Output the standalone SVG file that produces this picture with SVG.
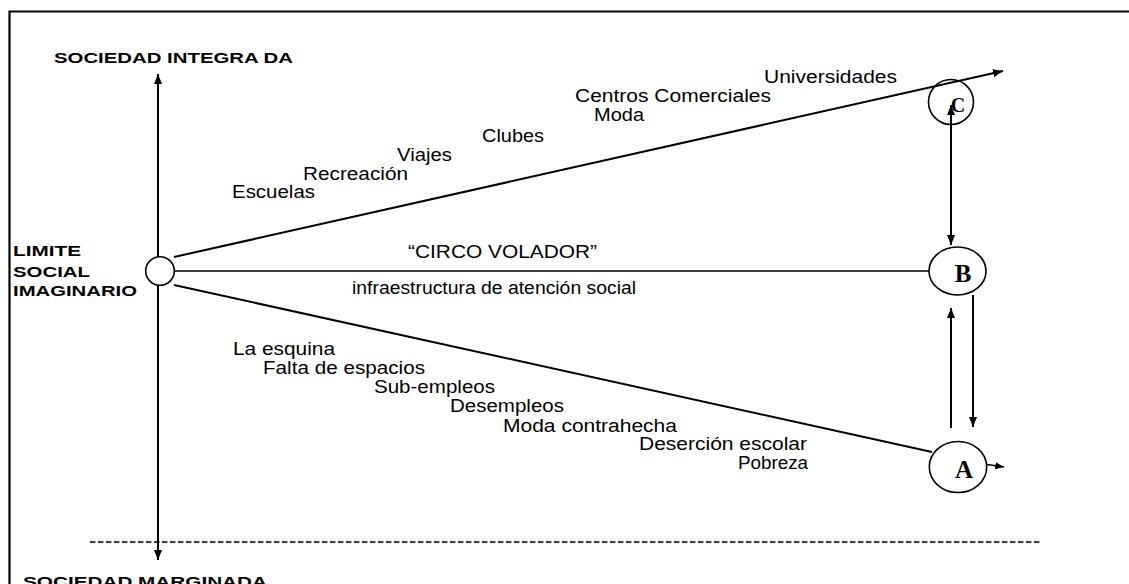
<svg xmlns="http://www.w3.org/2000/svg" width="1129" height="584" viewBox="0 0 1129 584">
<style>
.lbl{font-family:"Liberation Sans",Arial,sans-serif;font-size:17.5px;fill:#000}
.bold{font-family:"Liberation Sans",Arial,sans-serif;font-weight:bold;fill:#000}
.letter{font-family:"Liberation Serif","Times New Roman",serif;font-weight:bold;fill:#000;text-anchor:middle}
.ln{stroke:#000;fill:none}
.node{fill:#fff;stroke:#000;stroke-width:1.6}
</style>
<defs>
<marker id="ah" viewBox="0 0 10 8" refX="10" refY="4" markerWidth="10" markerHeight="8" orient="auto-start-reverse" markerUnits="userSpaceOnUse"><path d="M0,0 L10,4 L0,8 z" fill="#000"/></marker>
<marker id="ahs" viewBox="0 0 10 8" refX="10" refY="4" markerWidth="9" markerHeight="7" orient="auto" markerUnits="userSpaceOnUse"><path d="M0,0 L10,4 L0,8 z" fill="#000"/></marker>
</defs>
<rect width="1129" height="584" fill="#fff"/>
<path d="M9.5,600 V11.5 H1135" fill="none" stroke="#000" stroke-width="2.2"/>

<g id="connectors">
<line class="ln" x1="158" y1="560" x2="158" y2="74" stroke-width="2" marker-start="url(#ah)" marker-end="url(#ah)"/>
<line class="ln" x1="174" y1="257" x2="1003" y2="71" stroke-width="2" marker-end="url(#ah)"/>
<line class="ln" x1="174" y1="271" x2="929" y2="271" stroke-width="1.4"/>
<line class="ln" x1="174" y1="285" x2="932" y2="452" stroke-width="2"/>
<line class="ln" x1="951" y1="105" x2="951" y2="245" stroke-width="2" marker-start="url(#ah)" marker-end="url(#ah)"/>
<line class="ln" x1="951" y1="428" x2="951" y2="308" stroke-width="2" marker-end="url(#ah)"/>
<line class="ln" x1="973" y1="295" x2="973" y2="427" stroke-width="2" marker-end="url(#ah)"/>
<line class="ln" x1="987" y1="464.5" x2="1004" y2="467" stroke-width="1.6" marker-end="url(#ahs)"/>
<line class="ln" x1="90" y1="542" x2="1040" y2="542" stroke-width="1.4" stroke-dasharray="5.5 2.5"/>
</g>

<g id="node-origin"><circle class="node" cx="160" cy="271" r="14.3"/></g>
<g id="node-C"><circle class="node" cx="951" cy="102" r="22.5" style="fill:none"/><text class="letter" x="958" y="112" font-size="20">C</text></g>
<g id="node-B"><ellipse class="node" cx="957.5" cy="271" rx="28.5" ry="24"/><text class="letter" x="963" y="282" font-size="25">B</text></g>
<g id="node-A"><ellipse class="node" cx="958" cy="467" rx="28.7" ry="25.5"/><text class="letter" x="964" y="478" font-size="25">A</text></g>

<g id="axis-labels">
<text class="bold" x="54" y="63" font-size="15.5" textLength="239" lengthAdjust="spacingAndGlyphs">SOCIEDAD INTEGRA DA</text>
<text class="bold" x="23" y="587" font-size="15.5" textLength="244" lengthAdjust="spacingAndGlyphs">SOCIEDAD MARGINADA</text>
<text class="bold" x="13" y="256" font-size="14.5" textLength="68" lengthAdjust="spacingAndGlyphs">LIMITE</text>
<text class="bold" x="13" y="277" font-size="14.5" textLength="77" lengthAdjust="spacingAndGlyphs">SOCIAL</text>
<text class="bold" x="13" y="296" font-size="14.5" textLength="124" lengthAdjust="spacingAndGlyphs">IMAGINARIO</text>
</g>

<g id="upper-labels">
<text class="lbl" x="764" y="83" textLength="133" lengthAdjust="spacingAndGlyphs">Universidades</text>
<text class="lbl" x="575" y="102" textLength="196" lengthAdjust="spacingAndGlyphs">Centros Comerciales</text>
<text class="lbl" x="594" y="121" textLength="50" lengthAdjust="spacingAndGlyphs">Moda</text>
<text class="lbl" x="482" y="142" textLength="62" lengthAdjust="spacingAndGlyphs">Clubes</text>
<text class="lbl" x="397" y="161" textLength="55" lengthAdjust="spacingAndGlyphs">Viajes</text>
<text class="lbl" x="303" y="180" textLength="105" lengthAdjust="spacingAndGlyphs">Recreación</text>
<text class="lbl" x="232" y="198" textLength="83" lengthAdjust="spacingAndGlyphs">Escuelas</text>
</g>

<g id="middle-labels">
<text class="lbl" x="408" y="258" textLength="189" lengthAdjust="spacingAndGlyphs">“CIRCO VOLADOR”</text>
<text class="lbl" x="352" y="294" textLength="284" lengthAdjust="spacingAndGlyphs">infraestructura de atención social</text>
</g>

<g id="lower-labels">
<text class="lbl" x="233" y="355" textLength="102" lengthAdjust="spacingAndGlyphs">La esquina</text>
<text class="lbl" x="263" y="374" textLength="162" lengthAdjust="spacingAndGlyphs">Falta de espacios</text>
<text class="lbl" x="374" y="393" textLength="121" lengthAdjust="spacingAndGlyphs">Sub-empleos</text>
<text class="lbl" x="450" y="412" textLength="114" lengthAdjust="spacingAndGlyphs">Desempleos</text>
<text class="lbl" x="503" y="432" textLength="174" lengthAdjust="spacingAndGlyphs">Moda contrahecha</text>
<text class="lbl" x="639" y="450" textLength="168" lengthAdjust="spacingAndGlyphs">Deserción escolar</text>
<text class="lbl" x="738" y="469" textLength="70" lengthAdjust="spacingAndGlyphs">Pobreza</text>
</g>
</svg>
